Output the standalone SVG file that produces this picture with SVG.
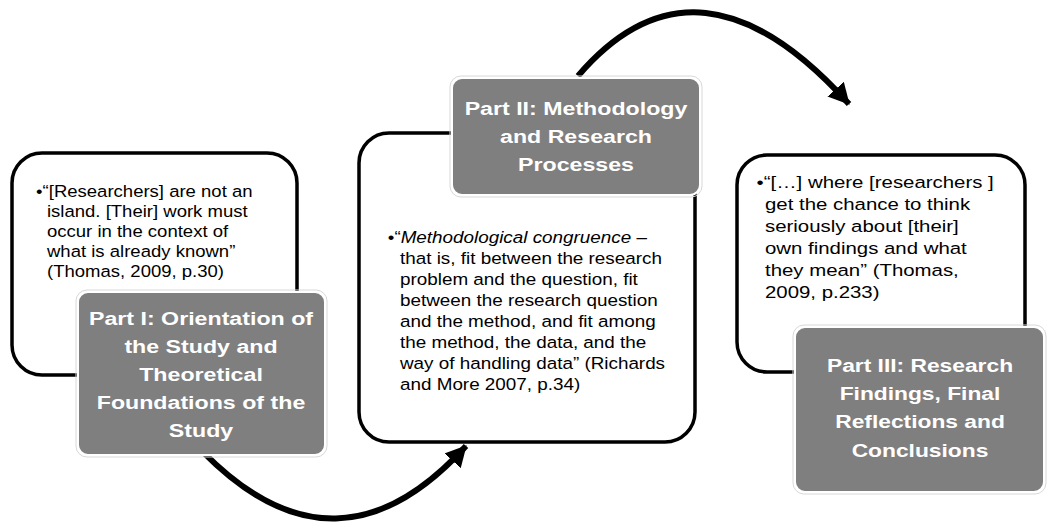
<svg xmlns="http://www.w3.org/2000/svg" width="1048" height="523" viewBox="0 0 1048 523">
  <style>
    .panel { fill: #ffffff; stroke: #000000; stroke-width: 3.5; }
    .title-box { fill: #7f7f7f; stroke: #ffffff; stroke-width: 2; }
    .title-rim { fill: none; stroke: #d8d8d8; stroke-width: 1; }
    .title { font-family: "Liberation Sans", Arial, sans-serif; font-weight: bold; fill: #ffffff; text-anchor: middle; font-size: 19px; }
    .body { font-family: "Liberation Sans", Arial, sans-serif; fill: #000000; font-size: 17px; }
    .flow { fill: none; stroke: #000000; stroke-width: 6; }
  </style>
  <defs>
    <marker id="head" markerUnits="userSpaceOnUse" markerWidth="26" markerHeight="26" refX="20" refY="11" orient="auto">
      <path d="M0,0 L21,11 L0,22 Z" fill="#000000"/>
    </marker>
  </defs>

  <rect width="1048" height="523" fill="#ffffff"/>

  <!-- curved connectors between the parts -->
  <g id="connectors">
    <path class="flow" d="M203,452 Q337,588 466,446" marker-end="url(#head)"/>
    <path class="flow" d="M578,76 Q698,-64 849,104" marker-end="url(#head)"/>
  </g>

  <!-- Part I -->
  <g id="part1">
    <rect class="panel" x="12" y="153" width="285" height="222" rx="30"/>
    <g transform="translate(47,0) scale(1.09,1)">
      <text class="body" x="-10" y="197">•“[Researchers] are not an</text>
      <text class="body" x="0" y="217">island. [Their] work must</text>
      <text class="body" x="0" y="237">occur in the context of</text>
      <text class="body" x="0" y="257">what is already known”</text>
      <text class="body" x="0" y="277">(Thomas, 2009, p.30)</text>
    </g>
    <rect class="title-rim" x="76" y="290" width="251" height="167" rx="11"/>
    <rect class="title-box" x="78" y="292" width="247" height="163" rx="10"/>
    <g transform="translate(201,0) scale(1.22,1)">
      <text class="title" x="0" y="325">Part I: Orientation of</text>
      <text class="title" x="0" y="353">the Study and</text>
      <text class="title" x="0" y="381">Theoretical</text>
      <text class="title" x="0" y="409">Foundations of the</text>
      <text class="title" x="0" y="437">Study</text>
    </g>
  </g>

  <!-- Part II -->
  <g id="part2">
    <rect class="panel" x="359" y="133" width="336" height="309" rx="30"/>
    <g transform="translate(400,0) scale(1.11,1)">
      <text class="body" x="-11" y="243">•“<tspan font-style="italic">Methodological congruence</tspan> –</text>
      <text class="body" x="0" y="264">that is, fit between the research</text>
      <text class="body" x="0" y="285">problem and the question, fit</text>
      <text class="body" x="0" y="306">between the research question</text>
      <text class="body" x="0" y="327">and the method, and fit among</text>
      <text class="body" x="0" y="348">the method, the data, and the</text>
      <text class="body" x="0" y="369">way of handling data” (Richards</text>
      <text class="body" x="0" y="390">and More 2007, p.34)</text>
    </g>
    <rect class="title-rim" x="450" y="76" width="252" height="121" rx="11"/>
    <rect class="title-box" x="452" y="78" width="248" height="117" rx="10"/>
    <g transform="translate(576,0) scale(1.22,1)">
      <text class="title" x="0" y="115">Part II: Methodology</text>
      <text class="title" x="0" y="143">and Research</text>
      <text class="title" x="0" y="171">Processes</text>
    </g>
  </g>

  <!-- Part III -->
  <g id="part3">
    <rect class="panel" x="737" y="155" width="288" height="217" rx="30"/>
    <g transform="translate(765,0) scale(1.2,1)">
      <text class="body" x="-7" y="188" font-size="18">•“[…] where [researchers ]</text>
      <text class="body" x="0" y="210" font-size="18">get the chance to think</text>
      <text class="body" x="0" y="232" font-size="18">seriously about [their]</text>
      <text class="body" x="0" y="254" font-size="18">own findings and what</text>
      <text class="body" x="0" y="276" font-size="18">they mean” (Thomas,</text>
      <text class="body" x="0" y="298" font-size="18">2009, p.233)</text>
    </g>
    <rect class="title-rim" x="793" y="325" width="253" height="169" rx="11"/>
    <rect class="title-box" x="795" y="327" width="249" height="165" rx="10"/>
    <g transform="translate(920,0) scale(1.2,1)">
      <text class="title" x="0" y="372">Part III: Research</text>
      <text class="title" x="0" y="400">Findings, Final</text>
      <text class="title" x="0" y="428">Reflections and</text>
      <text class="title" x="0" y="457">Conclusions</text>
    </g>
  </g>
</svg>
